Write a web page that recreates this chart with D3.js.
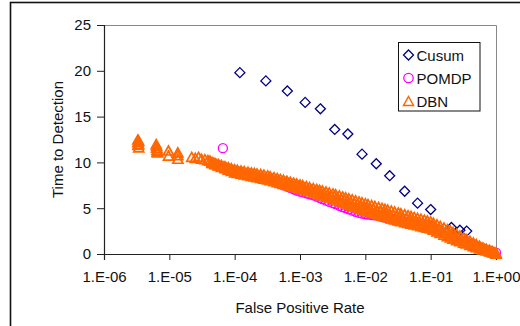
<!DOCTYPE html>
<html>
<head>
<meta charset="utf-8">
<script src="https://cdn.jsdelivr.net/npm/d3@7"></script>
<style>
  body { margin: 0; background: #fff; }
  svg { display: block; font-family: "Liberation Sans", Arial, sans-serif; }
</style>
</head>
<body>
<div class="chart"></div>
<script>
// Tick values
var xTicks = [1e-6, 1e-5, 1e-4, 1e-3, 1e-2, 1e-1, 1];
var yTicks = [0, 5, 10, 15, 20, 25];

// Cusum series
var cusumFpr = [1.2e-4, 3.0e-4, 6.4e-4, 1.2e-3, 2.05e-3, 3.4e-3, 5.4e-3, 8.9e-3, 1.47e-2, 2.36e-2, 4.0e-2, 6.3e-2, 1.0e-1, 2.08e-1, 2.8e-1, 3.56e-1];
var cusumTtd = [19.8, 18.9, 17.8, 16.55, 15.85, 13.6, 13.1, 10.9, 9.85, 8.55, 6.85, 5.55, 4.85, 2.9, 2.6, 2.5];

// POMDP series
var pomdpFpr = [6.6e-5,
  1.0e-4, 1.25e-4, 1.6e-4, 2.0e-4, 2.5e-4, 3.2e-4, 4.0e-4, 4.5e-4, 5.0e-4, 5.6e-4, 6.3e-4, 7.1e-4, 8.0e-4, 8.9e-4,
  1.0e-3, 1.1e-3, 1.25e-3, 1.4e-3, 1.6e-3, 1.8e-3, 2.0e-3, 2.2e-3, 2.5e-3, 2.8e-3, 3.2e-3, 3.5e-3, 4.0e-3, 4.5e-3, 5.0e-3, 5.6e-3, 6.3e-3, 7.1e-3, 8.0e-3, 8.9e-3,
  1.0e-2, 1.1e-2, 1.25e-2, 1.4e-2, 1.6e-2, 1.8e-2, 2.0e-2, 2.2e-2, 2.5e-2, 2.8e-2, 3.2e-2, 4.0e-2, 5.0e-2, 6.3e-2, 8.0e-2,
  1.0e-1, 1.25e-1, 1.6e-1, 2.0e-1, 2.5e-1, 3.2e-1, 4.0e-1, 5.0e-1, 6.3e-1, 8.0e-1, 1.0];
var pomdpTtd = [11.55,
  9.05, 8.85, 8.62, 8.45, 8.28, 8.12, 7.92, 7.75, 7.62, 7.50, 7.36, 7.22, 7.06, 6.92,
  6.80, 6.72, 6.62, 6.52, 6.40, 6.26, 6.12, 5.98, 5.82, 5.68, 5.55, 5.44, 5.26, 5.12, 5.00, 4.87, 4.73, 4.60, 4.48, 4.40,
  4.34, 4.30, 4.25, 4.21, 4.14, 4.06, 3.98, 3.90, 3.80, 3.70, 3.64, 3.55, 3.40, 3.25, 3.05,
  2.95, 2.65, 2.30, 2.00, 1.70, 1.40, 1.10, 0.85, 0.60, 0.35, 0.15];

// DBN series: sparse points at low false positive rates
var dbnSparseFpr = [3.3e-6, 3.3e-6, 3.3e-6, 3.4e-6, 3.4e-6, 3.4e-6,
  6.3e-6, 6.4e-6, 6.4e-6, 6.5e-6, 6.5e-6, 6.6e-6, 9.7e-6, 9.7e-6, 1.35e-5, 1.35e-5, 1.35e-5,
  2.2e-5, 2.5e-5, 2.8e-5, 3.1e-5, 3.5e-5, 3.9e-5, 4.2e-5];
var dbnSparseTtd = [12.5, 12.2, 11.9, 12.35, 12.0, 11.65,
  12.0, 11.8, 11.6, 11.4, 11.2, 11.1, 11.3, 10.75, 11.1, 10.8, 10.4,
  10.6, 10.5, 10.6, 10.4, 10.35, 10.25, 10.2];

// DBN series: dense band, upper and lower edge of the point cloud
var dbnFpr = [4.5e-5, 5.0e-5, 5.6e-5, 6.3e-5, 7.1e-5, 8.0e-5, 8.9e-5,
  1.0e-4, 1.1e-4, 1.25e-4, 1.4e-4, 1.6e-4, 1.8e-4, 2.0e-4, 2.2e-4, 2.5e-4, 2.8e-4, 3.2e-4, 3.5e-4, 4.0e-4, 4.5e-4, 5.0e-4, 5.6e-4, 6.3e-4, 7.1e-4, 8.0e-4, 8.9e-4,
  1.0e-3, 1.1e-3, 1.25e-3, 1.4e-3, 1.6e-3, 1.8e-3, 2.0e-3, 2.2e-3, 2.5e-3, 2.8e-3, 3.2e-3, 3.5e-3, 4.0e-3, 4.5e-3, 5.0e-3, 5.6e-3, 6.3e-3, 7.1e-3, 8.0e-3, 8.9e-3,
  1.0e-2, 1.1e-2, 1.25e-2, 1.4e-2, 1.6e-2, 1.8e-2, 2.0e-2, 2.2e-2, 2.5e-2, 2.8e-2, 3.2e-2, 3.5e-2, 4.0e-2, 4.5e-2, 5.0e-2, 5.6e-2, 6.3e-2, 7.1e-2, 8.0e-2, 8.9e-2,
  1.0e-1, 1.1e-1, 1.25e-1, 1.4e-1, 1.6e-1, 1.8e-1, 2.0e-1, 2.2e-1, 2.5e-1, 2.8e-1, 3.2e-1, 3.5e-1, 4.0e-1, 4.5e-1, 5.0e-1, 5.6e-1, 6.3e-1, 7.1e-1, 8.0e-1, 8.9e-1,
  1.0];
var dbnTtdUpper = [10.05, 9.94, 9.83, 9.71, 9.59, 9.47, 9.36,
  9.24, 9.19, 9.11, 9.05, 8.97, 8.91, 8.85, 8.80, 8.72, 8.66, 8.58, 8.50, 8.39, 8.29, 8.20, 8.10, 8.00, 7.90, 7.79, 7.70,
  7.60, 7.52, 7.41, 7.31, 7.20, 7.10, 7.01, 6.93, 6.82, 6.72, 6.61, 6.52, 6.40, 6.29, 6.19, 6.08, 5.97, 5.86, 5.74, 5.64,
  5.53, 5.45, 5.34, 5.24, 5.13, 5.03, 4.93, 4.85, 4.74, 4.64, 4.53, 4.45, 4.34, 4.24, 4.15, 4.05, 3.95, 3.85, 3.75, 3.66,
  3.56, 3.42, 3.24, 3.07, 2.88, 2.71, 2.56, 2.41, 2.20, 2.01, 1.79, 1.65, 1.44, 1.25, 1.08, 0.90, 0.71, 0.57, 0.44, 0.30,
  0.16];
var dbnTtdLower = [9.95, 9.81, 9.67, 9.52, 9.36, 9.21, 9.07,
  8.92, 8.86, 8.77, 8.70, 8.61, 8.53, 8.46, 8.39, 8.31, 8.23, 8.14, 8.06, 7.95, 7.85, 7.76, 7.66, 7.56, 7.46, 7.36, 7.27,
  7.17, 7.08, 6.96, 6.85, 6.72, 6.61, 6.51, 6.42, 6.29, 6.19, 6.06, 5.95, 5.80, 5.67, 5.55, 5.42, 5.29, 5.15, 5.01, 4.89,
  4.76, 4.67, 4.55, 4.44, 4.32, 4.20, 4.10, 4.01, 3.89, 3.79, 3.66, 3.59, 3.49, 3.40, 3.32, 3.23, 3.14, 3.05, 2.96, 2.88,
  2.79, 2.65, 2.47, 2.31, 2.12, 1.95, 1.80, 1.67, 1.52, 1.40, 1.25, 1.15, 1.00, 0.87, 0.75, 0.62, 0.49, 0.38, 0.28, 0.17,
  0.05];

// DBN series: points in the middle of the band, between the rates above
var dbnMidFpr = [4.75e-5, 5.3e-5, 5.95e-5, 6.7e-5, 7.55e-5, 8.45e-5, 9.45e-5,
  1.05e-4, 1.17e-4, 1.32e-4, 1.5e-4, 1.7e-4, 1.9e-4, 2.1e-4, 2.35e-4, 2.65e-4, 3.0e-4, 3.35e-4, 3.75e-4, 4.25e-4, 4.75e-4, 5.3e-4, 5.95e-4, 6.7e-4, 7.55e-4, 8.45e-4, 9.45e-4,
  1.05e-3, 1.17e-3, 1.32e-3, 1.5e-3, 1.7e-3, 1.9e-3, 2.1e-3, 2.35e-3, 2.65e-3, 3.0e-3, 3.35e-3, 3.75e-3, 4.25e-3, 4.75e-3, 5.3e-3, 5.95e-3, 6.7e-3, 7.55e-3, 8.45e-3, 9.45e-3,
  1.05e-2, 1.17e-2, 1.32e-2, 1.5e-2, 1.7e-2, 1.9e-2, 2.1e-2, 2.35e-2, 2.65e-2, 3.0e-2, 3.35e-2, 3.75e-2, 4.25e-2, 4.75e-2, 5.3e-2, 5.95e-2, 6.7e-2, 7.55e-2, 8.45e-2, 9.45e-2,
  1.05e-1, 1.17e-1, 1.32e-1, 1.5e-1, 1.7e-1, 1.9e-1, 2.1e-1, 2.35e-1, 2.65e-1, 3.0e-1, 3.35e-1, 3.75e-1, 4.25e-1, 4.75e-1, 5.3e-1, 5.95e-1, 6.7e-1, 7.55e-1, 8.45e-1, 9.45e-1];
var dbnTtdMid = [9.94, 9.81, 9.68, 9.545, 9.41, 9.28, 9.15,
  9.05, 8.98, 8.91, 8.83, 8.755, 8.69, 8.625, 8.555, 8.48, 8.40, 8.32, 8.225, 8.12, 8.025, 7.93, 7.83, 7.73, 7.63, 7.53, 7.435,
  7.34, 7.24, 7.13, 7.02, 6.91, 6.81, 6.72, 6.615, 6.505, 6.395, 6.285, 6.17, 6.04, 5.925, 5.81, 5.69, 5.57, 5.44, 5.32, 5.205,
  5.10, 5.00, 4.89, 4.78, 4.67, 4.565, 4.47, 4.37, 4.265, 4.155, 4.06, 3.965, 3.87, 3.78, 3.69, 3.595, 3.50, 3.40, 3.31, 3.22,
  3.105, 2.945, 2.77, 2.595, 2.415, 2.255, 2.11, 1.95, 1.78, 1.61, 1.46, 1.31, 1.14, 0.99, 0.84, 0.68, 0.54, 0.42, 0.30, 0.17];

var legendNames = ["Cusum", "POMDP", "DBN"];

var width = 520, height = 326;
var plot = { left: 104, right: 496, top: 25, bottom: 254 };
var navy = "#000080", magenta = "#ff00ff", orange = "#ff6600";

var svg = d3.select(".chart").append("svg")
  .attr("width", width)
  .attr("height", height);

// Outer chart border (the right and bottom edges fall outside the picture)
svg.append("rect")
  .attr("x", 10.5).attr("y", 2.5)
  .attr("width", 600).attr("height", 400)
  .attr("fill", "none")
  .attr("stroke", "#111")
  .attr("stroke-width", 1.6);

var xScale = d3.scaleLog().domain([1e-6, 1]).range([plot.left, plot.right]);
var yScale = d3.scaleLinear().domain([0, 25]).range([plot.bottom, plot.top]);

// Gray plot-area frame on top and right
svg.append("path")
  .attr("d", "M" + plot.left + "," + (plot.top + 0.5) + "H" + (plot.right + 0.5) + "V" + plot.bottom)
  .attr("fill", "none")
  .attr("stroke", "#888")
  .attr("stroke-width", 1);

// Marker shapes
var diamond = "M0,-5L5,0L0,5L-5,0Z";
var triangle = "M0,-4.5L5,4.5L-5,4.5Z";

function fmtExp(d) {
  var e = Math.round(Math.log10(d));
  return "1.E" + (e < 0 ? "-" : "+") + (Math.abs(e) < 10 ? "0" : "") + Math.abs(e);
}

// Axes
var xAxis = d3.axisBottom(xScale).tickValues(xTicks).tickFormat(fmtExp).tickSize(6).tickPadding(11);
var yAxis = d3.axisLeft(yScale).tickValues(yTicks).tickSize(7).tickPadding(6);

var gx = svg.append("g")
  .attr("transform", "translate(0," + plot.bottom + ")")
  .call(xAxis);
var gy = svg.append("g")
  .attr("transform", "translate(" + plot.left + ",0)")
  .call(yAxis);

[gx, gy].forEach(function(g) {
  g.select(".domain").attr("stroke", "#222").attr("stroke-width", 1.2);
  g.selectAll(".tick line").attr("stroke", "#222").attr("stroke-width", 1);
  g.selectAll(".tick text")
    .attr("fill", "#111")
    .style("font-size", "15px")
    .style("font-family", "'Liberation Sans', Arial, sans-serif");
});

// Axis titles
svg.append("text")
  .attr("x", (plot.left + plot.right) / 2)
  .attr("y", 313)
  .attr("text-anchor", "middle")
  .attr("fill", "#111")
  .style("font-size", "15px")
  .text("False Positive Rate");

svg.append("text")
  .attr("transform", "translate(63," + (plot.top + plot.bottom) / 2 + ") rotate(-90)")
  .attr("text-anchor", "middle")
  .attr("fill", "#111")
  .style("font-size", "15px")
  .text("Time to Detection");

// Series are drawn in order: Cusum, then POMDP, then DBN on top
var cusum = cusumFpr.map(function(f, i) { return [f, cusumTtd[i]]; });
svg.append("g").selectAll("path")
  .data(cusum)
  .enter()
  .append("path")
  .attr("d", diamond)
  .attr("transform", function(d) { return "translate(" + xScale(d[0]) + "," + yScale(d[1]) + ")"; })
  .attr("fill", "none")
  .attr("stroke", navy)
  .attr("stroke-width", 1.3);

var pomdp = pomdpFpr.map(function(f, i) { return [f, pomdpTtd[i]]; });
svg.append("g").selectAll("circle")
  .data(pomdp)
  .enter()
  .append("circle")
  .attr("cx", function(d) { return xScale(d[0]); })
  .attr("cy", function(d) { return yScale(d[1]); })
  .attr("r", 4.5)
  .attr("fill", "none")
  .attr("stroke", magenta)
  .attr("stroke-width", 1.3);

var dbn = dbnSparseFpr.map(function(f, i) { return [f, dbnSparseTtd[i]]; });
dbnFpr.forEach(function(f, i) {
  dbn.push([f, dbnTtdUpper[i]]);
  dbn.push([f, dbnTtdLower[i]]);
});
dbnMidFpr.forEach(function(f, i) {
  dbn.push([f, dbnTtdMid[i]]);
});
svg.append("g").selectAll("path")
  .data(dbn)
  .enter()
  .append("path")
  .attr("d", triangle)
  .attr("transform", function(d) { return "translate(" + xScale(d[0]) + "," + yScale(d[1]) + ")"; })
  .attr("fill", "none")
  .attr("stroke", orange)
  .attr("stroke-width", 1.7);

// Legend
var legend = svg.append("g").attr("transform", "translate(398.5,42.5)");
legend.append("rect")
  .attr("width", 81.5)
  .attr("height", 68.5)
  .attr("fill", "#fff")
  .attr("stroke", "#111")
  .attr("stroke-width", 1);

var items = legend.selectAll(".item")
  .data(legendNames)
  .enter()
  .append("g")
  .attr("class", "item")
  .attr("transform", function(d, i) { return "translate(10," + (12.5 + i * 23) + ")"; });

items.each(function(d, i) {
  var g = d3.select(this);
  if (i === 0) {
    g.append("path").attr("d", diamond).attr("fill", "none").attr("stroke", navy).attr("stroke-width", 1.3);
  } else if (i === 1) {
    g.append("circle").attr("r", 4.7).attr("fill", "none").attr("stroke", magenta).attr("stroke-width", 1.3);
  } else {
    g.append("path").attr("d", triangle).attr("fill", "none").attr("stroke", orange).attr("stroke-width", 1.5);
  }
  g.append("text")
    .attr("x", 8)
    .attr("y", 5.5)
    .attr("fill", "#111")
    .style("font-size", "15px")
    .text(d);
});
</script>
</body>
</html>
